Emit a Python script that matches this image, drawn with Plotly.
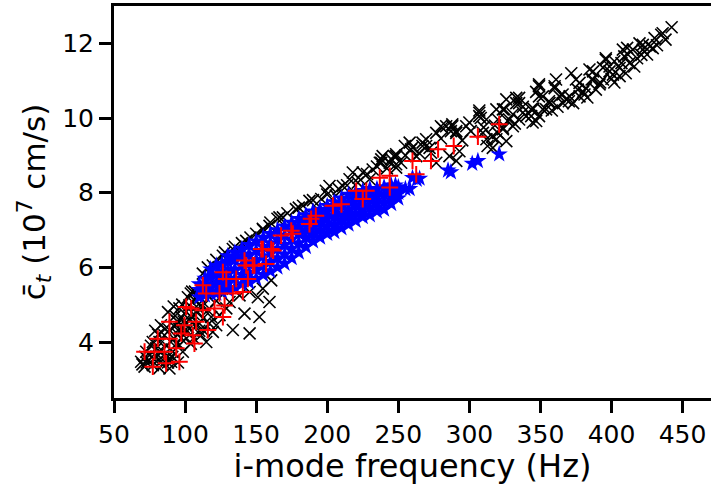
import plotly.graph_objects as go

# ---- black x markers (frequency Hz, c_t in 1e7 cm/s) ----
black_x = [442.3,436,435,430.3,429,427,422,421,419.7,422,416,415,412.7,411.5,411,409,408,407,405.7,405.7,
           402,402,401,398.6,398.6,396,396,394,394,391.6,389,387,387,386,384.5,383,382,381,377.5,377.5,
           376.3,375,373,371.7,370.5,368,365.8,365.6,363.4,362,361,360,360,356.4,356,354,351.7,351.7,349,349,
           349,349,347,347,344.5,343.5,343.5,340,337.6,337.6,335,335,335,333,333,330.6,330.6,328,327,326,
           326,324.7,323.6,323.6,323.6,320,320,319,319,316.5,316,312.8,312,312,309.5,308,307,307,307,301,
           300,297.8,293,290.8,290.8,290.8,288,288,287,286,283.7,281,280,276.7,276.7,273,269.6,269.6,267,267,
           262.6,260,259,258,254.6,248.5,248.5,248.5,248.5,247,244,239,238,238,237,232,229.8,225,221.5,218,
           215.7,211,206,201.6,199,195.8,187.5,183,178,168.8,165,166.4,159.4,154.7,150,143,133.6,126.6,119.5,112.5,
           160,172,180,190,200,208,214,222,228,235,242,245,252,255,140,135,128,122,116,146,155,
           69.1,71.5,77.3,89,90.2,75,79.7,72.7,82,85.5,77.3,89,92.6,94.9,97.3,100.8,103,106.6,109,111.3,
           114.9,110,100.8,107.8,112.5,96,98.4,91.4,89,84.3,114.9,111.3,119.5,121.9,118.4,124.2,129,133.6,141.8,145.4,
           152.3,159.4,151.2,160.6,154.7,145.4,138.3,131.3,133.6,
           74,80,83,87,92,95,99,103,106,108,113,117,120,86,81,76,93,96,104,107,72,82,95,104,110,116,122,128,98,102,105,90,85,
           70,73,78,84,88,91,94,97,100,101,105,109,112,115,118,121,125,79,83,88,92,96,99,102,106,110,113,117,
           265,272,280,295,310,318,332,345,358,370,380,392,400,410,418,425,432,438]
black_y = [12.43,12.27,12.23,12.14,11.87,11.92,11.96,11.69,12.0,11.83,11.38,11.83,11.47,11.7,11.88,11.65,11.83,11.47,11.34,11.12,
           11.52,10.95,11.16,11.25,11.38,11.6,11.56,11.35,11.03,10.9,10.76,11.25,11.03,11.03,11.3,10.55,10.8,10.63,10.94,10.58,
           10.76,11.03,10.4,11.2,10.58,10.5,10.4,10.63,10.58,10.3,11.03,10.8,10.85,10.4,10.45,10.23,10.58,10.23,10.85,10.58,
           10.05,10.9,10.7,9.92,9.88,10.23,10.05,10.05,10.3,10.14,10.54,9.96,10.4,10.4,10.54,9.78,10.1,9.96,9.92,10.5,
           9.38,10.23,9.7,9.74,10.23,9.96,9.6,10.23,9.43,9.2,9.5,9.25,9.96,9.43,9.6,10.0,10.2,10.14,10.05,9.65,
           9.88,9.78,9.11,9.65,9.6,8.85,9.78,9.83,9.65,8.98,9.78,9.74,9.78,9.6,8.8,9.07,9.25,9.43,9.34,9.25,
           8.98,9.21,9.16,9.34,9.25,8.98,9.03,8.76,8.67,8.98,8.8,8.98,8.89,8.8,8.8,8.62,8.36,8.54,8.27,8.54,
           8.36,8.18,7.92,8.18,8.05,7.83,7.78,7.65,7.56,7.34,7.3,7.34,7.11,7.03,6.9,6.71,6.49,6.31,6.05,5.83,
           7.2,7.45,7.6,7.8,7.95,8.1,8.2,8.4,8.5,8.7,8.65,8.9,8.8,9.0,6.65,6.55,6.4,6.2,6.0,6.8,7.0,
           3.47,3.34,3.38,3.29,3.47,3.65,3.83,3.74,4.0,4.18,4.0,4.32,4.41,4.54,4.67,4.81,4.98,5.12,5.25,5.43,
           5.6,5.16,4.27,4.45,4.63,3.92,3.74,3.74,3.56,3.52,4.0,4.18,4.27,4.45,4.67,4.72,4.9,4.32,4.76,4.23,
           4.67,5.07,5.2,5.65,5.43,5.34,5.25,5.07,5.43,
           3.5,3.6,3.8,3.9,4.1,4.2,4.4,4.6,4.75,4.95,5.05,5.2,5.35,4.35,4.2,3.9,4.7,4.9,5.3,5.35,3.6,3.3,3.45,3.95,4.3,4.85,5.1,5.6,5.0,5.2,5.35,4.0,3.65,
           3.4,3.45,3.55,3.4,3.45,3.6,3.95,4.1,4.5,4.1,4.65,4.8,4.95,5.3,5.45,5.55,5.5,4.3,4.45,4.8,4.95,4.35,4.55,4.4,4.1,4.5,4.3,4.5,
           9.05,9.2,9.45,9.4,9.75,9.8,9.85,10.25,10.2,10.45,10.7,10.95,11.05,11.2,11.6,11.7,11.95,12.1]

# ---- blue star markers ----
blue_x = [110,110,110, 114,114,114, 118,118,118,118, 122,122,122,122, 126,126,126,126,
          130,130,130,130,130, 135,135,135,135,135, 140,140,140,140,140, 145,145,145,145,145,
          150,150,150,150,150, 155,155,155,155,155, 160,160,160,160,160, 165,165,165,165,165,
          170,170,170,170,170, 175,175,175,175,175, 180,180,180,180,180, 185,185,185,185,185,
          190,190,190,190,190, 195,195,195,195,195, 200,200,200,200,200, 205,205,205,205,205,
          210,210,210,210,210, 215,215,215,215,215, 220,220,220,220,220, 225,225,225,225,225,
          230,230,230,230,230, 235,235,235,235, 240,240,240,240, 245,245,245,245, 250,250,250,
          248,255,258,260,263,265,285,287,302,306,321]
blue_y = [5.2,5.4,5.55, 5.25,5.45,5.7, 5.3,5.5,5.75,5.95, 5.3,5.55,5.8,6.05, 5.35,5.6,5.85,6.1,
          5.4,5.65,5.9,6.15,6.3, 5.45,5.7,5.95,6.2,6.4, 5.55,5.8,6.05,6.3,6.5, 5.6,5.85,6.1,6.35,6.6,
          5.7,5.95,6.2,6.45,6.7, 5.8,6.05,6.3,6.55,6.8, 5.9,6.15,6.4,6.65,6.9, 6.0,6.25,6.5,6.75,7.0,
          6.1,6.35,6.6,6.85,7.1, 6.25,6.5,6.75,7.0,7.2, 6.4,6.65,6.9,7.1,7.3, 6.55,6.8,7.0,7.2,7.4,
          6.7,6.9,7.1,7.3,7.5, 6.8,7.0,7.2,7.4,7.55, 6.9,7.1,7.3,7.5,7.65, 6.95,7.15,7.35,7.55,7.75,
          7.05,7.25,7.45,7.65,7.85, 7.15,7.35,7.55,7.75,7.95, 7.25,7.45,7.65,7.85,8.0, 7.35,7.55,7.75,7.95,8.05,
          7.4,7.6,7.8,8.0,8.1, 7.5,7.7,7.9,8.1, 7.55,7.75,7.95,8.15, 7.7,7.9,8.1,8.2, 7.85,8.0,8.15,
          8.2,8.1,8.1,8.4,8.35,8.38,8.6,8.55,8.78,8.85,9.03]

# ---- red + markers ----
red_x = [71.5,78.5,77.3,86.7,96,85.5,93.8,80.8,89,97.3,105.4,106.6,116,107.8,99.6,89,100.8,104.3,112.5,120.7,
         126.6,127.8,114.9,124.2,133.6,140.6,112.5,126.6,129,136,144.2,141.8,143,148.8,157,154.7,160.6,167.6,175.8,174.7,
         187.5,188.7,192,204,210,220.4,227.5,225,237,244,244,260,262.6,273,278,289,306,321,162,153.6,147.6]
red_y = [3.74,3.74,3.34,3.43,3.47,3.74,3.83,4.09,4.09,4.23,4.18,3.96,4.32,4.54,4.45,4.54,4.94,4.9,4.85,4.9,
         4.67,4.98,5.3,5.3,5.3,5.34,5.52,5.87,5.69,5.69,5.69,6.18,6.05,6.05,6.09,6.49,6.49,6.85,6.9,6.98,
         7.16,7.3,7.38,7.65,7.69,8.05,8.05,7.83,8.4,8.45,8.14,8.85,8.49,8.85,9.16,9.25,9.5,9.83,6.45,6.49,6.05]

x_ticks = [50, 100, 150, 200, 250, 300, 350, 400, 450]
y_ticks = [4, 6, 8, 10, 12]

fig = go.Figure()
fig.add_trace(go.Scatter(x=black_x, y=black_y, mode="markers",
                         marker=dict(symbol="x-thin", size=12, color="black",
                                     line=dict(color="black", width=1.6))))
fig.add_trace(go.Scatter(x=blue_x, y=blue_y, mode="markers",
                         marker=dict(symbol="star", size=13, color="blue",
                                     line=dict(width=0))))
fig.add_trace(go.Scatter(x=red_x, y=red_y, mode="markers",
                         marker=dict(symbol="cross-thin", size=12, color="red",
                                     line=dict(color="red", width=2))))

font = "DejaVu Sans"
fig.update_layout(
    width=711, height=485,
    margin=dict(l=114, r=0, t=6, b=87),
    paper_bgcolor="white", plot_bgcolor="white",
    showlegend=False,
    font=dict(family=font, color="black"),
)
fig.update_xaxes(range=[50, 470], tickvals=x_ticks, ticks="outside", ticklen=12, tickwidth=3,
                 tickcolor="black", showline=True, linewidth=3, linecolor="black", mirror=True,
                 showgrid=False, zeroline=False, tickfont=dict(size=25, family=font),
                 title=dict(text="i-mode frequency (Hz)", font=dict(size=32, family=font), standoff=3))
fig.update_yaxes(range=[2.5, 13], tickvals=y_ticks, ticks="outside", ticklen=12, tickwidth=3,
                 tickcolor="black", showline=True, linewidth=3, linecolor="black", mirror=False,
                 showgrid=False, zeroline=False, tickfont=dict(size=25, family=font),
                 title=dict(text="c\u0304<sub><i>t</i></sub> (10<sup>7</sup> cm/s)",
                            font=dict(size=31, family=font), standoff=8))

fig.write_html("out.html")
